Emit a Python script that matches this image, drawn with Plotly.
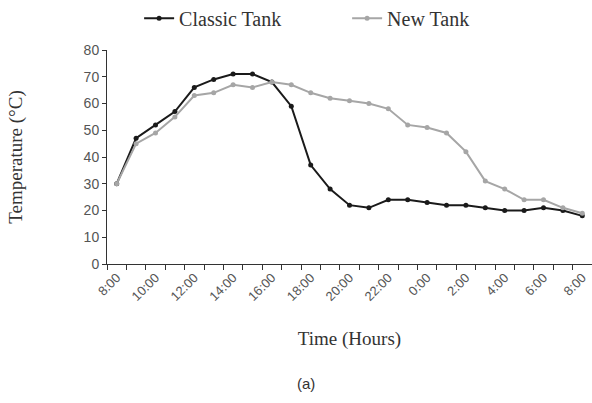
import plotly.graph_objects as go

# Hourly readings from 8:00 to 8:00 the next day
hours = list(range(25))
tick_labels = ["8:00", "10:00", "12:00", "14:00", "16:00", "18:00", "20:00",
               "22:00", "0:00", "2:00", "4:00", "6:00", "8:00"]
classic_tank = [30, 47, 52, 57, 66, 69, 71, 71, 68, 59, 37, 28, 22, 21, 24, 24,
                23, 22, 22, 21, 20, 20, 21, 20, 18]
new_tank = [30, 45, 49, 55, 63, 64, 67, 66, 68, 67, 64, 62, 61, 60, 58, 52,
            51, 49, 42, 31, 28, 24, 24, 21, 19]

serif = "Liberation Serif, Times New Roman, serif"
sans = "Liberation Sans, Arial, sans-serif"

fig = go.Figure()
fig.add_trace(go.Scatter(
    x=hours, y=classic_tank, name="Classic Tank", mode="lines+markers",
    line=dict(color="#1a1a1a", width=2), marker=dict(size=5, color="#1a1a1a"),
))
fig.add_trace(go.Scatter(
    x=hours, y=new_tank, name="New Tank", mode="lines+markers",
    line=dict(color="#a6a6a6", width=2), marker=dict(size=5, color="#a6a6a6"),
))

fig.update_layout(
    width=592, height=403,
    margin=dict(l=107, r=0, t=50, b=139),
    paper_bgcolor="white", plot_bgcolor="white",
    legend=dict(orientation="h", xref="container", x=0.235, xanchor="left",
                yref="container", y=0.955, yanchor="middle",
                font=dict(family=serif, size=20, color="#333"),
                entrywidth=163, tracegroupgap=0),
    xaxis=dict(
        range=[-0.5, 24.5], showgrid=False, zeroline=False, automargin=False,
        showline=True, linecolor="#333", linewidth=1,
        tickmode="array", tickvals=list(range(0, 25, 2)), ticktext=tick_labels,
        ticks="", tickangle=-45,
        tickfont=dict(family=sans, size=13, color="#555"),
        minor=dict(tickmode="array", tickvals=[i - 0.5 for i in range(26)],
                   ticks="outside", ticklen=5, tickcolor="#333"),
        title=dict(text="Time (Hours)", font=dict(family=serif, size=19, color="#333"),
                   standoff=28),
    ),
    yaxis=dict(
        range=[0, 80], dtick=10, showgrid=False, zeroline=False, automargin=False,
        showline=True, linecolor="#333", linewidth=1,
        ticks="outside", ticklen=4, tickcolor="#333",
        tickfont=dict(family=sans, size=14, color="#555"),
        title=dict(text="Temperature (°C)", font=dict(family=serif, size=19, color="#333"),
                   standoff=55),
    ),
    annotations=[dict(text="(a)", xref="paper", yref="paper",
                      x=(306 - 107) / 485, y=-(383 - 264) / 214, yanchor="middle",
                      showarrow=False, font=dict(family=sans, size=15, color="#333"))],
)

fig.write_html("out.html")
